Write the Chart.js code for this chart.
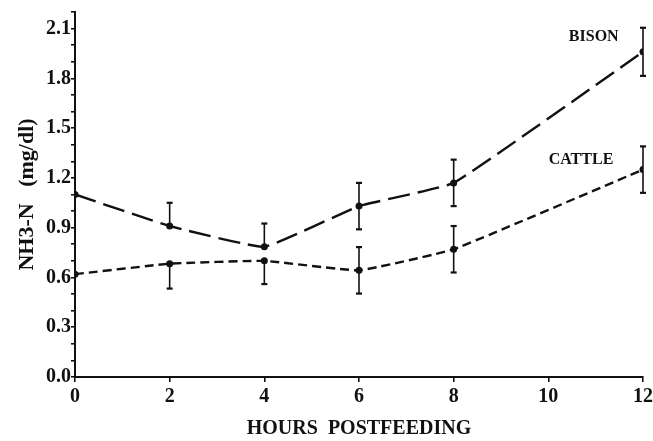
<!DOCTYPE html>
<html>
<head>
<meta charset="utf-8">
<script src="https://cdn.jsdelivr.net/npm/chart.js@4.4.0/dist/chart.umd.min.js"></script>
<style>
    html, body { margin: 0; padding: 0; background: #fff; }
    #wrap { width: 653px; height: 441px; }
</style>
</head>
<body>
<div id="wrap"><canvas id="nh3Chart" width="653" height="441"></canvas></div>
<script>
// Hours after feeding
const hours = [0, 2, 4, 6, 8, 12];

// NH3-N (mg/dl) means
const bison = [1.10, 0.91, 0.785, 1.03, 1.17, 1.96];
const cattle = [0.62, 0.683, 0.70, 0.643, 0.77, 1.25];

// error bars (some only drawn on one side in the original)
const bisonErrUp = [0, 0.14, 0.14, 0.14, 0.14, 0.145];
const bisonErrDown = [0, 0, 0, 0.14, 0.14, 0.145];
const cattleErrUp = [0, 0, 0, 0.14, 0.14, 0.14];
const cattleErrDown = [0, 0.15, 0.14, 0.14, 0.14, 0.14];

// Series labels and where they sit (in data units)
const seriesNames = ['BISON', 'CATTLE'];
const nameAnchors = [[10.96, 2.05], [10.69, 1.31]];

const serif = '"Liberation Serif", "DejaVu Serif", serif';

function toPoints(xs, ys) {
    return xs.map((x, i) => ({ x: x, y: ys[i] }));
}

// draws the vertical error bars with caps, and the series names
const errorBars = {
    id: 'errorBars',
    afterDatasetsDraw(chart) {
        const c = chart.ctx;
        const xs = chart.scales.x;
        const ys = chart.scales.y;
        const means = [bison, cattle];
        const ups = [bisonErrUp, cattleErrUp];
        const downs = [bisonErrDown, cattleErrDown];
        c.save();
        c.strokeStyle = '#111';
        c.setLineDash([]);
        for (let s = 0; s < means.length; s++) {
            for (let i = 0; i < hours.length; i++) {
                const px = xs.getPixelForValue(hours[i]);
                const mid = ys.getPixelForValue(means[s][i]);
                const ends = [];
                if (ups[s][i]) ends.push(ys.getPixelForValue(means[s][i] + ups[s][i]));
                if (downs[s][i]) ends.push(ys.getPixelForValue(means[s][i] - downs[s][i]));
                ends.forEach(py => {
                    c.lineWidth = 1.6;
                    c.beginPath();
                    c.moveTo(px, mid); c.lineTo(px, py);
                    c.stroke();
                    c.lineWidth = 2.2;
                    c.beginPath();
                    c.moveTo(px - 3, py); c.lineTo(px + 3, py);
                    c.stroke();
                });
            }
        }
        c.fillStyle = '#111';
        c.font = 'bold 16px ' + serif;
        c.textAlign = 'center';
        c.textBaseline = 'middle';
        for (let s = 0; s < seriesNames.length; s++) {
            c.fillText(seriesNames[s],
                xs.getPixelForValue(nameAnchors[s][0]),
                ys.getPixelForValue(nameAnchors[s][1]));
        }
        c.restore();
    }
};

let ctx = document.getElementById('nh3Chart').getContext('2d');
let chart = new Chart(ctx, {
    type: 'line',
    data: {
        datasets: [{
            label: 'Bison',
            data: toPoints(hours, bison),
            borderColor: '#111',
            backgroundColor: '#111',
            borderWidth: 2.4,
            borderDash: [22, 8],
            tension: 0.1,
            pointRadius: 2.3,
            pointHoverRadius: 2.3
        }, {
            label: 'Cattle',
            data: toPoints(hours, cattle),
            borderColor: '#111',
            backgroundColor: '#111',
            borderWidth: 2.4,
            borderDash: [9, 5],
            tension: 0.1,
            pointRadius: 2.3,
            pointHoverRadius: 2.3
        }]
    },
    options: {
        responsive: false,
        animation: false,
        layout: { padding: { left: 0, right: 10, top: 10, bottom: 0 } },
        plugins: {
            legend: { display: false },
            tooltip: { enabled: false }
        },
        scales: {
            x: {
                type: 'linear',
                min: 0,
                max: 12,
                border: { display: true, color: '#111', width: 2 },
                grid: { drawOnChartArea: false, drawTicks: true, tickLength: 5, color: '#111', lineWidth: 1.6 },
                ticks: {
                    stepSize: 2,
                    color: '#111',
                    padding: 3,
                    font: { family: serif, size: 20, weight: 'bold' }
                },
                title: {
                    display: true,
                    text: 'HOURS  POSTFEEDING',
                    color: '#111',
                    padding: { top: 0, bottom: 0 },
                    font: { family: serif, size: 20, weight: 'bold' }
                },
                afterFit(scale) {
                    scale.height = 64;
                    scale.paddingRight = 0;
                    scale.paddingLeft = 0;
                }
            },
            y: {
                min: 0,
                max: 2.2,
                border: { display: true, color: '#111', width: 2 },
                grid: { drawOnChartArea: false, drawTicks: true, tickLength: 4, color: '#111', lineWidth: 1.6 },
                ticks: {
                    stepSize: 0.1,
                    autoSkip: false,
                    color: '#111',
                    padding: 0,
                    font: { family: serif, size: 20, weight: 'bold' },
                    callback: (v, i) => (i % 3 === 0 ? v.toFixed(1) : '')
                },
                title: {
                    display: true,
                    text: 'NH3-N   (mg/dl)',
                    color: '#111',
                    padding: { top: 14, bottom: 0 },
                    font: { family: serif, size: 22, weight: 'bold' }
                },
                afterFit(scale) { scale.width = 75; }
            }
        }
    },
    plugins: [errorBars]
});
</script>
</body>
</html>
